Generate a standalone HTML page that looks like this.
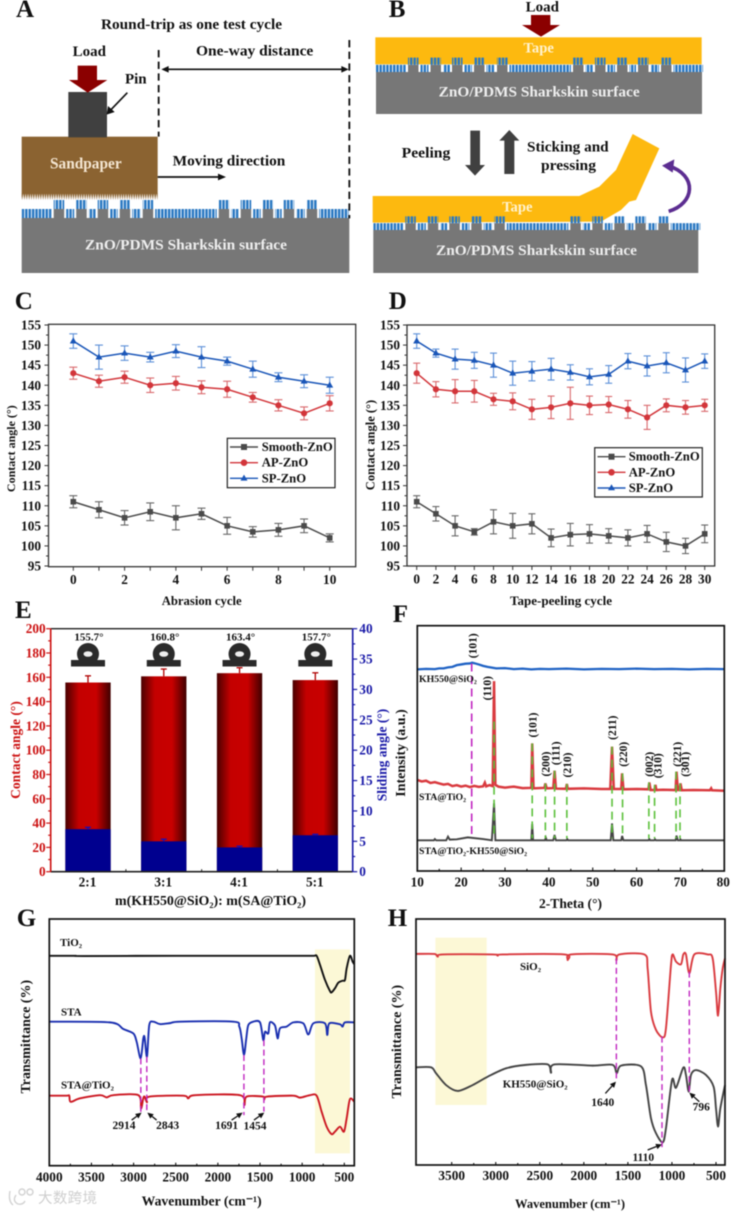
<!DOCTYPE html>
<html lang="en">
<head>
<meta charset="utf-8">
<title>ZnO/PDMS sharkskin surface figure</title>
<style>
html,body{margin:0;padding:0;background:#fff;}
svg{display:block;filter:blur(0.4px);}
text{font-family:"Liberation Serif","Noto Serif CJK SC",serif;font-weight:bold;fill:#111;}
.wm{font-family:"Liberation Sans","Noto Sans CJK SC",sans-serif;font-weight:normal;fill:#cfcfcf;}
</style>
</head>
<body>
<svg id="figure" xmlns="http://www.w3.org/2000/svg" width="733" height="1213" viewBox="0 0 733 1213">
<defs>
  <pattern id="fiber" width="3.4" height="20" patternUnits="userSpaceOnUse"><rect width="2.5" height="20" fill="#2a78c2"/></pattern>
  <pattern id="teeth" width="7" height="20" patternUnits="userSpaceOnUse"><polygon points="0,0 7,0 3.5,20" fill="#8b6331"/></pattern>
  <linearGradient id="barRed" x1="0" x2="1" y1="0" y2="0">
    <stop offset="0" stop-color="#4a0000"/><stop offset="0.3" stop-color="#c40000"/><stop offset="0.68" stop-color="#c80000"/><stop offset="1" stop-color="#3f0000"/>
  </linearGradient>
  <g id="surface-strip">
    <rect x="0" y="-9" width="327" height="9" fill="url(#fiber)"/>
    <rect x="30" y="-9" width="14.5" height="9" fill="#fff"/><rect x="52.5" y="-9" width="14.5" height="9" fill="#fff"/><rect x="74" y="-9" width="14.5" height="9" fill="#fff"/><rect x="96" y="-9" width="14.5" height="9" fill="#fff"/><rect x="119" y="-9" width="14.5" height="9" fill="#fff"/><rect x="195" y="-9" width="14.5" height="9" fill="#fff"/><rect x="217" y="-9" width="14.5" height="9" fill="#fff"/><rect x="239" y="-9" width="14.5" height="9" fill="#fff"/><rect x="260" y="-9" width="14.5" height="9" fill="#fff"/><rect x="283" y="-9" width="14.5" height="9" fill="#fff"/>
    <rect x="32" y="-9" width="10.5" height="9" fill="#777"/><rect x="54.5" y="-9" width="10.5" height="9" fill="#777"/><rect x="76" y="-9" width="10.5" height="9" fill="#777"/><rect x="98" y="-9" width="10.5" height="9" fill="#777"/><rect x="121" y="-9" width="10.5" height="9" fill="#777"/><rect x="197" y="-9" width="10.5" height="9" fill="#777"/><rect x="219" y="-9" width="10.5" height="9" fill="#777"/><rect x="241" y="-9" width="10.5" height="9" fill="#777"/><rect x="262" y="-9" width="10.5" height="9" fill="#777"/><rect x="285" y="-9" width="10.5" height="9" fill="#777"/>
    <rect x="32" y="-18" width="10.5" height="9" fill="url(#fiber)"/><rect x="54.5" y="-18" width="10.5" height="9" fill="url(#fiber)"/><rect x="76" y="-18" width="10.5" height="9" fill="url(#fiber)"/><rect x="98" y="-18" width="10.5" height="9" fill="url(#fiber)"/><rect x="121" y="-18" width="10.5" height="9" fill="url(#fiber)"/><rect x="197" y="-18" width="10.5" height="9" fill="url(#fiber)"/><rect x="219" y="-18" width="10.5" height="9" fill="url(#fiber)"/><rect x="241" y="-18" width="10.5" height="9" fill="url(#fiber)"/><rect x="262" y="-18" width="10.5" height="9" fill="url(#fiber)"/><rect x="285" y="-18" width="10.5" height="9" fill="url(#fiber)"/>
  </g>
</defs>
<rect width="733" height="1213" fill="#fff"/>

<!-- Panel A -->
<g>
  <rect x="21.7" y="218" width="327.6" height="55" fill="#777"/>
  <use href="#surface-strip" transform="translate(21.7,218)"/>
  <g transform="scale(0.33333)">
    <rect x="65" y="410" width="408" height="172" fill="#8b6331"/>
    <rect x="65" y="580" width="408" height="20" fill="url(#teeth)"/>
    <rect x="205" y="276" width="116" height="136" fill="#404040"/>
    <polygon points="233,197 291,197 291,240 322,240 263,278 207,240 233,240" fill="#8b0000"/>
    <line x1="382" y1="278" x2="330" y2="332" stroke="#111" stroke-width="5"/>
    <polygon points="320,344 324,318 344,336" fill="#111"/>
    <line x1="476" y1="150" x2="476" y2="410" stroke="#111" stroke-width="5.5" stroke-dasharray="22 13"/>
    <line x1="1048" y1="120" x2="1048" y2="655" stroke="#111" stroke-width="5.5" stroke-dasharray="22 13"/>
    <line x1="495" y1="208" x2="1030" y2="208" stroke="#111" stroke-width="5"/>
    <polygon points="484,208 506,198 506,218" fill="#111"/>
    <polygon points="1046,208 1024,198 1024,218" fill="#111"/>
    <line x1="473" y1="531" x2="660" y2="531" stroke="#111" stroke-width="5"/>
    <polygon points="678,531 654,521 654,541" fill="#111"/>
    <text x="303" y="87" font-size="45" textLength="543" lengthAdjust="spacingAndGlyphs">Round-trip as one test cycle</text>
    <text x="268" y="168" font-size="45" text-anchor="middle">Load</text>
    <text x="375" y="250" font-size="45">Pin</text>
    <text x="588" y="167" font-size="45" textLength="352" lengthAdjust="spacingAndGlyphs">One-way distance</text>
    <text x="518" y="497" font-size="45" textLength="338" lengthAdjust="spacingAndGlyphs">Moving direction</text>
    <text x="150" y="505" font-size="46" textLength="215" lengthAdjust="spacingAndGlyphs" style="fill:#f4e6d2">Sandpaper</text>
    <text x="255" y="748" font-size="45" textLength="606" lengthAdjust="spacingAndGlyphs" style="fill:#eeeeee">ZnO/PDMS Sharkskin surface</text>
  </g>
</g>

<!-- Panel B -->
<g>
  <g transform="translate(366,0) scale(0.33333)">
    <rect x="28" y="112" width="979" height="81" fill="#fdb90f"/>
    <polygon points="20,588 640,588 700,560 750,510 800,402 880,445 810,600 790,605 765,630 705,665 20,668" fill="#fdb90f"/>
    <polygon points="495,45 553,45 553,75 582,75 525,110 468,75 495,75" fill="#8b0000"/>
    <polygon points="313,392 342,392 342,495 357,495 327,527 297,495 313,495" fill="#404040"/>
    <polygon points="430,390 460,422 445,422 445,522 415,522 415,422 400,422" fill="#404040"/>
    <path d="M908,634 C985,612 998,525 905,497" fill="none" stroke="#5c2d91" stroke-width="11"/>
    <polygon points="888,497 925,478 920,518" fill="#5c2d91"/>
  </g>
  <rect x="376" y="72" width="326" height="42" fill="#777"/>
  <use href="#surface-strip" transform="translate(376,72) scale(1,0.8)"/>
  <rect x="373.3" y="230" width="325" height="43" fill="#777"/>
  <use href="#surface-strip" transform="translate(373.3,230) scale(1,0.76)"/>
  <g transform="translate(366,0) scale(0.33333)">
    <text x="529" y="35" font-size="45" text-anchor="middle">Load</text>
    <text x="518" y="158" font-size="44" text-anchor="middle" style="fill:#fff3d0">Tape</text>
    <text x="454" y="635" font-size="44" text-anchor="middle" style="fill:#fff3d0">Tape</text>
    <text x="107" y="473" font-size="45" textLength="146" lengthAdjust="spacingAndGlyphs">Peeling</text>
    <text x="483" y="455" font-size="45" textLength="245" lengthAdjust="spacingAndGlyphs">Sticking and</text>
    <text x="525" y="510" font-size="45" textLength="165" lengthAdjust="spacingAndGlyphs">pressing</text>
    <text x="218" y="290" font-size="45" textLength="603" lengthAdjust="spacingAndGlyphs" style="fill:#eeeeee">ZnO/PDMS Sharkskin surface</text>
    <text x="210" y="765" font-size="45" textLength="603" lengthAdjust="spacingAndGlyphs" style="fill:#eeeeee">ZnO/PDMS Sharkskin surface</text>
  </g>
</g>

<!-- Panel letters -->
<g font-size="25">
  <text x="16" y="17">A</text>
  <text x="388.7" y="17">B</text>
  <text x="14.7" y="309">C</text>
  <text x="388.7" y="309">D</text>
  <text x="15" y="618">E</text>
  <text x="392.7" y="622">F</text>
  <text x="16.7" y="926">G</text>
  <text x="387.7" y="926">H</text>
</g>

<g id="panel-c"></g>
<g id="panel-d"></g>
<g id="panel-e"></g>
<g id="panel-f"></g>
<g id="panel-g"></g>
<g id="panel-h"></g>

<!-- Titles and legends -->
<text x="161.7" y="605" font-size="12.7" textLength="80" lengthAdjust="spacingAndGlyphs">Abrasion cycle</text>
<text transform="translate(15,448.7) rotate(-90)" font-size="12" text-anchor="middle">Contact angle (°)</text>
<text x="510" y="605" font-size="12.7" textLength="102" lengthAdjust="spacingAndGlyphs">Tape-peeling cycle</text>
<text transform="translate(374.3,445) rotate(-90)" font-size="12.5" text-anchor="middle">Contact angle (°)</text>

<g>
  <rect x="227.3" y="438.3" width="107.7" height="49.4" fill="#fff" stroke="#222" stroke-width="1.2"/>
  <line x1="230" x2="258" y1="447" y2="447" stroke="#4a4a4a" stroke-width="1.4"/><rect x="241" y="444" width="6" height="6" fill="#4a4a4a"/>
  <line x1="230" x2="258" y1="462.7" y2="462.7" stroke="#d2353a" stroke-width="1.4"/><circle cx="244" cy="462.7" r="3.3" fill="#d2353a"/>
  <line x1="230" x2="258" y1="478.3" y2="478.3" stroke="#1a56b8" stroke-width="1.4"/><polygon points="244,474.6 247.5,480.6 240.5,480.6" fill="#1a56b8"/>
  <text x="261.7" y="451" font-size="12.7" textLength="71" lengthAdjust="spacingAndGlyphs">Smooth-ZnO</text>
  <text x="261.7" y="466.7" font-size="12.7">AP-ZnO</text>
  <text x="261.7" y="482.3" font-size="12.7">SP-ZnO</text>
</g>
<g>
  <rect x="594.7" y="447.7" width="107.6" height="49.3" fill="#fff" stroke="#222" stroke-width="1.2"/>
  <line x1="597.5" x2="625.5" y1="456.7" y2="456.7" stroke="#4a4a4a" stroke-width="1.4"/><rect x="608.5" y="453.7" width="6" height="6" fill="#4a4a4a"/>
  <line x1="597.5" x2="625.5" y1="472.3" y2="472.3" stroke="#d2353a" stroke-width="1.4"/><circle cx="611.5" cy="472.3" r="3.3" fill="#d2353a"/>
  <line x1="597.5" x2="625.5" y1="488" y2="488" stroke="#1a56b8" stroke-width="1.4"/><polygon points="611.5,484.3 615,490.3 608,490.3" fill="#1a56b8"/>
  <text x="628.7" y="460.7" font-size="12.7" textLength="71" lengthAdjust="spacingAndGlyphs">Smooth-ZnO</text>
  <text x="628.7" y="476.3" font-size="12.7">AP-ZnO</text>
  <text x="628.7" y="492" font-size="12.7">SP-ZnO</text>
</g>

<text transform="translate(20,750) rotate(-90)" font-size="13.5" text-anchor="middle" style="fill:#cc1111">Contact angle (°)</text>
<text transform="translate(386.7,755) rotate(-90)" font-size="13.5" text-anchor="middle" style="fill:#1a1aa8">Sliding angle (°)</text>
<text x="115" y="905" font-size="14" textLength="191" lengthAdjust="spacingAndGlyphs">m(KH550@SiO₂): m(SA@TiO₂)</text>

<text x="539" y="908" font-size="13.5" textLength="63" lengthAdjust="spacingAndGlyphs">2-Theta (°)</text>
<text transform="translate(405,753) rotate(-90)" font-size="14" text-anchor="middle">Intensity (a.u.)</text>
<text x="419" y="682" font-size="9.8">KH550@SiO₂</text>
<text x="419" y="800" font-size="9.8">STA@TiO₂</text>
<text x="419" y="854" font-size="9.8">STA@TiO₂-KH550@SiO₂</text>

<text x="141.7" y="1205.5" font-size="13.5" textLength="120" lengthAdjust="spacingAndGlyphs">Wavenumber (cm⁻¹)</text>
<text transform="translate(30,1036.7) rotate(-90)" font-size="14" text-anchor="middle">Transmittance (%)</text>
<text x="60" y="946" font-size="11">TiO₂</text>
<text x="61" y="1015.7" font-size="11">STA</text>
<text x="61" y="1088.3" font-size="11">STA@TiO₂</text>

<text x="515" y="1208" font-size="12.5" textLength="110" lengthAdjust="spacingAndGlyphs">Wavenumber (cm⁻¹)</text>
<text transform="translate(401,1041.7) rotate(-90)" font-size="14" text-anchor="middle">Transmittance (%)</text>
<text x="520" y="970" font-size="11">SiO₂</text>
<text x="502.7" y="1087.7" font-size="11">KH550@SiO₂</text>

<!-- Watermark -->
<g>
  <path d="M10,1191 q-2,10 3,14 M16,1195 q-4,6 2,9 q5,1 7,-3 M19,1192 a3,3 0 1 0 6,0 a3,3 0 1 0 -6,0 M27,1192 a3,3 0 1 0 6,0 a3,3 0 1 0 -6,0" fill="none" stroke="#d2d2d2" stroke-width="1.4"/>
  <text class="wm" x="38" y="1203" font-size="14.5" textLength="59">大数跨境</text>
</g>

<script>
/* ---------- Panel C data ---------- */
const abrasionCycles = [0,1,2,3,4,5,6,7,8,9,10];
const abrasionSmooth = [111,109,107,108.5,107,108,105,103.5,104,105,102];
const abrasionSmoothErr = [1.5,2,1.8,2.2,3,1.4,2.1,1.3,1.6,1.7,1];
const abrasionAp = [143,141,142,140,140.5,139.5,139,137,135,133,135.5];
const abrasionApErr = [1.5,1.5,1.5,1.8,1.7,1.6,2,1.2,1.4,1.6,1.9];
const abrasionSp = [151,147,148,147,148.5,147,146,144,142,141,140];
const abrasionSpErr = [1.8,3,1.8,1.2,1.6,2.6,1,2,1.1,1.6,2];
/* ---------- Panel D data ---------- */
const peelCycles = [0,2,4,6,8,10,12,14,16,18,20,22,24,26,28,30];
const peelSmooth = [111,108,105,103.5,106,105,105.5,102,102.8,103,102.5,102,103,101,100,103];
const peelSmoothErr = [1.5,1.8,2.5,0.8,3,3.1,2.5,2.2,2.8,2.3,1.8,2,2.1,2.4,1.9,2.2];
const peelAp = [143,139,138.5,138.5,136.5,136,134,134.5,135.5,135,135.2,134,132,135,134.5,135];
const peelApErr = [2.5,1.9,2.9,2.7,1.5,2.1,2.5,2.8,4,2.3,2,2.2,3,1.6,1.7,1.5];
const peelSp = [151,148,146.5,146.2,145,143,143.5,144,143.2,142.1,142.7,146,144.8,145.6,143.8,146];
const peelSpErr = [1.8,1,2.5,2,3,3,2.4,2.7,1.9,2,2.2,1.9,2.5,2.5,3,1.8];
const contactTicks = [95,100,105,110,115,120,125,130,135,140,145,150,155];
/* ---------- Panel E data ---------- */
const massRatios = ['2:1','3:1','4:1','5:1'];
const contactAngle = [155.7,160.8,163.4,157.7];
const contactAngleErr = [5.5,6,4.5,6];
const slidingAngle = [7,5,4,6];
const slidingAngleErr = [0.3,0.35,0.2,0.15];
const contactAxisTicks = [0,20,40,60,80,100,120,140,160,180,200];
const slidingAxisTicks = [0,5,10,15,20,25,30,35,40];
/* ---------- Panel F data ---------- */
const xrdTicks = [10,20,30,40,50,60,70,80];
const xrdBlueTheta = [10,12,14,15,16,17,18,19,20,21,22,22.5,23,24,25,26,27,28,30,32,34,36,38,40,44,48,52,56,60,64,68,72,76,80];
const xrdBlueI = [82.2,82.4,82.3,82.6,82.6,83,83.2,83.9,84.2,84.5,84.6,84.9,84.7,84.2,83.6,83.2,82.9,82.6,82.7,82.3,82.5,82.2,82.4,82.3,82.5,82.2,82.4,82.3,82.5,82.3,82.4,82.2,82.4,82.3];
const xrdRedTheta = [10,11,12,13,14,15,16,17,18,19,20,21,22,23,24,25,25.4,25.7,26.5,27.2,27.5,27.8,28.5,30,32,34,36,36.2,36.5,39,39.2,39.5,41,41.3,41.6,43.9,44.1,44.3,48,52,54,54.4,54.8,56.5,56.7,57,60,62.7,62.9,63.2,64.1,64.3,64.5,66,68.9,69.1,69.4,69.8,70,70.3,73,76.7,77,77.2,80];
const xrdRedI = [37.1,36.5,36.8,35.9,36.2,35.7,35.2,35.5,34.6,35,34.4,34.8,34.2,34.7,34.3,34.5,36,34.5,35,34.6,77.4,35.1,34.4,34,34.4,33.8,33.9,52,33.7,33.9,35.7,33.7,33.8,40.9,33.6,33.5,35.5,33.5,33.7,33.4,33.4,50.7,33.4,33.4,39.8,33.3,33.4,33.3,36.1,33,33,35.1,33,33.1,33,40.5,33,33,35.7,32.9,33,32.9,33.7,32.9,32.7];
const xrdBlackTheta = [10,13.8,14,14.3,16.6,17,17.4,19,21.5,25,27,27.5,27.8,36,36.2,36.4,39.1,39.3,39.5,41,41.3,41.6,44,44.2,44.4,54.1,54.4,54.7,56.5,56.7,57,62.7,62.9,63.1,64,64.2,64.4,68.9,69.1,69.4,69.9,70,70.2,80];
const xrdBlackI = [12.5,12.5,13,12.5,12.5,14,12.8,12.9,13.7,13,12.5,27.6,12.5,12.5,19.2,12.5,12.5,13.6,12.5,12.5,14.7,12.5,12.5,13,12.5,12.5,19.4,12.5,12.5,14.3,12.5,12.5,13,12.5,12.5,12.9,12.5,12.5,14.4,12.5,12.5,12.9,12.5,12.5];
const xrdGreenTheta = [27.5,36.2,39.2,41.3,44.1,54.4,56.8,62.8,64.1,69,69.9];
const xrdGreenTop = [60.9,52,35.7,40.9,35.5,50.7,39.8,36.1,35.1,40.5,35.7];
const xrdDashBottom = [13.3];
const xrdPinkTheta = [22.4];
const xrdPinkTop = [84.6];
const xrdPeakLabels = ['(101)','(110)','(101)','(200)','(111)','(210)','(211)','(220)','(002)','(310)','(221)','(301)'];
const xrdPeakLabelTheta = [23.5,26.8,37.2,40.1,42.4,45,55.3,57.8,63.7,65.7,70.1,72];
const xrdPeakLabelI = [91.8,74.5,59.5,43.6,48,43.2,58.4,47.6,43.5,42.9,47.6,43.5];
/* ---------- Panel G data ---------- */
const gTickValues = [4000,3500,3000,2500,2000,1500,1000,500];
const tio2Wn = [4000,3700,3600,2500,1500,1000,860,828,788,729,670,650,611,571,520,492,472,433,401,381];
const tio2T = [85.1,85.1,85,85.1,85.1,85.1,85.1,85.1,81.4,75.3,70.8,70.3,71.9,74.2,75,75.3,80,85.1,82.7,81.6];
const staWn = [4000,3280,3122,3003,2964,2916,2885,2869,2841,2814,2766,2687,2568,2450,1817,1746,1718,1690,1663,1639,1580,1500,1461,1441,1402,1382,1322,1291,1263,1184,1105,986,927,868,729,702,678,551,520,492,381];
const staT = [58.4,58.1,55.4,53.6,50.3,43.5,51.6,51.9,44.2,57,58.4,57.4,57.8,58.4,58.4,56.4,51.6,44.9,51.6,57,58.4,58.1,50.9,54.3,53.6,58.1,56.8,51.6,55.7,56.4,58.1,57.7,53.2,57.7,57.7,53,57.7,57.3,56.4,58.1,58.1];
const staTio2Wn = [4000,3794,3763,3747,3636,3399,3320,3241,2944,2912,2885,2869,2841,2814,2410,2351,2272,1738,1686,1659,1461,1449,1421,1105,1026,907,828,769,709,650,611,551,504,472,433,381];
const staTio2T = [28.4,28.4,28.4,25.9,27.3,28.6,27.7,28.6,28.6,23.2,27.3,28,25.7,28,28.4,27.3,28.6,28.6,24.6,28,28,26.9,28,28.4,27.6,28.6,28.4,21.9,15.8,12.8,13.8,15.8,13.8,19.2,27,25.9];
const gBandWn = [848,433];
const gBandT = [87.7,5];
const gPeakLabels = ['2914','2843','1691','1454'];
const gPeakWn = [2914,2843,1691,1454];
const gDashTop = [43.5,44.2,44.9,50.9];
const gDashBottom = [21.2,21.9,20.5,21.9];
const gLabelWn = [3114,2596,1896,1560];
const gLabelT = [14.9,14.9,14.9,14.6];
const gArrowFromWn = [3023,2727,1837,1572];
const gArrowFromT = [18.5,18.5,18.5,18.5];
const gArrowToWn = [2905,2837,1706,1449];
const gArrowToT = [21.5,21.5,21.5,21.5];
/* ---------- Panel H data ---------- */
const hTickValues = [3500,3000,2500,2000,1500,1000,500];
const sio2Wn = [3905,3697,3659,3602,3035,2978,2921,2221,2184,2146,1673,1631,1597,1313,1276,1238,1181,1105,1068,1011,992,954,897,871,841,803,746,595,538,500,477,451,424,398];
const sio2T = [85.8,85.8,84.7,85.6,85.6,85.1,85.6,85.6,83.3,85.6,85.6,83.3,85.6,85.6,79.9,62.3,54.9,51.9,55.6,81.3,85.6,82.7,81.6,85.6,85.6,77.9,85.6,85.6,84,70.5,60.7,71.8,79.9,84];
const kh550Wn = [3905,3735,3678,3564,3432,3262,3091,2883,2656,2410,2373,2335,1900,1673,1627,1578,1351,1295,1238,1181,1105,1068,999,954,871,841,810,784,727,614,527,500,477,451,398];
const kh550T = [39.7,39.7,37.3,32.5,30.1,32.5,35.9,39.3,40.7,40.9,37.5,40.9,40.4,40.7,37.3,40.4,40.1,32.5,19,12.9,9.2,14.9,34.6,31.4,39.6,36.6,29.8,36.6,38.6,36.6,31.8,23,15.6,23,32.5];
const hBandWn = [3685,3103];
const hBandT = [92.4,24.4];
const hPeakLabels = ['1640','1110','796'];
const hPeakWn = [1631,1113,803];
const hDashTop = [84,52.2,78.6];
const hDashBottom = [34.6,6.8,29.1];
const hLabelWn = [1786,1325,667];
const hLabelT = [24,1.6,22.1];
const hArrowFromWn = [1756,1276,689];
const hArrowFromT = [29.1,6.1,25.7];
const hArrowToWn = [1635,1113,803];
const hArrowToT = [33.9,8.4,29.4];

/* ---------- Helpers ---------- */
const NS = 'http://www.w3.org/2000/svg';
function el(parent, tag, attrs, name) {
  const e = document.createElementNS(NS, tag);
  for (const k in attrs) e.setAttribute(k, attrs[k]);
  
  
  parent.appendChild(e);
  return e;
}
function label(parent, str, x, y, size, anchor, name, fill, rotate) {
  const a = {x: x, y: y, 'font-size': size, 'text-anchor': anchor};
  if (rotate) a.transform = 'rotate(-90 ' + x + ' ' + y + ')';
  const t = el(parent, 'text', a, name);
  if (fill) t.style.fill = fill;
  t.textContent = str;
  return t;
}
function scale(d0, d1, r0, r1) { return v => r0 + (v - d0) * (r1 - r0) / (d1 - d0); }
function linePath(xs, ys, sx, sy, smooth) {
  const p = xs.map((v, i) => [sx(v), sy(ys[i])]);
  let d = 'M' + p[0][0].toFixed(2) + ',' + p[0][1].toFixed(2);
  for (let i = 1; i < p.length; i++) {
    if (smooth) {
      const a = p[Math.max(i - 2, 0)], b = p[i - 1], c = p[i], e = p[Math.min(i + 1, p.length - 1)];
      const t = 0.15;
      d += ' C' + (b[0] + (c[0] - a[0]) * t).toFixed(2) + ',' + (b[1] + (c[1] - a[1]) * t).toFixed(2) + ' ' +
           (c[0] - (e[0] - b[0]) * t).toFixed(2) + ',' + (c[1] - (e[1] - b[1]) * t).toFixed(2) + ' ' +
           c[0].toFixed(2) + ',' + c[1].toFixed(2);
    } else {
      d += ' L' + p[i][0].toFixed(2) + ',' + p[i][1].toFixed(2);
    }
  }
  return d;
}
function frame(g, x0, y0, x1, y1, w, color, name) {
  el(g, 'rect', {x: x0, y: y0, width: x1 - x0, height: y1 - y0, fill: 'none', stroke: color, 'stroke-width': w}, name);
}
function seg(g, x1, y1, x2, y2, color, w, name, dash) {
  const a = {x1: x1, y1: y1, x2: x2, y2: y2, stroke: color, 'stroke-width': w};
  if (dash) a['stroke-dasharray'] = dash;
  return el(g, 'line', a, name);
}
function arrow(g, x1, y1, x2, y2, name) {
  const ang = Math.atan2(y2 - y1, x2 - x1), L = 6, W = 2.8;
  const bx = x2 - Math.cos(ang) * L, by = y2 - Math.sin(ang) * L;
  seg(g, x1, y1, bx, by, '#111', 1.3, name + '-shaft');
  const pts = x2 + ',' + y2 + ' ' + (bx - Math.sin(ang) * W) + ',' + (by + Math.cos(ang) * W) + ' ' + (bx + Math.sin(ang) * W) + ',' + (by - Math.cos(ang) * W);
  el(g, 'polygon', {points: pts, fill: '#111'}, name + '-head');
}

/* ---------- Line charts C and D ---------- */
function lineChart(id, box, xs, xDomain, xLabelEvery, series, yLabelX, xBase, capW) {
  const g = document.getElementById(id);
  const sx = scale(xDomain[0], xDomain[1], box.xa, box.xb);
  const sy = scale(95, 155, box.y95, box.y155);
  contactTicks.forEach((v) => {
    seg(g, box.x0, sy(v), box.x0 - 4, sy(v), '#333', 1, id + '-y-tick');
    if (v < 155) seg(g, box.x0, sy(v + 2.5), box.x0 - 2.5, sy(v + 2.5), '#333', 1, id + '-y-minor-tick');
    label(g, String(v), yLabelX, sy(v) + 4.5, 13.3, 'end', id + '-y-tick-label');
  });
  xs.forEach((v, i) => {
    seg(g, sx(v), box.y0, sx(v), box.y0 + 4, '#333', 1, id + '-x-tick');
    if (i % xLabelEvery === 0) label(g, String(v), sx(v), xBase, 13.3, 'middle', id + '-x-tick-label');
  });
  series.forEach((s) => {
    xs.forEach((v, i) => {
      const hi = sy(s.values[i] + s.err[i]), lo = sy(s.values[i] - s.err[i]), x = sx(v);
      seg(g, x, hi, x, lo, s.light, 1.1, id + '-' + s.key + '-error-bar');
      seg(g, x - capW, hi, x + capW, hi, s.light, 1.1, id + '-' + s.key + '-error-cap');
      seg(g, x - capW, lo, x + capW, lo, s.light, 1.1, id + '-' + s.key + '-error-cap');
    });
    el(g, 'path', {d: linePath(xs, s.values, sx, sy), fill: 'none', stroke: s.color, 'stroke-width': 1.5}, id + '-' + s.key + '-line');
    xs.forEach((v, i) => {
      const x = sx(v), y = sy(s.values[i]);
      if (s.key === 'smooth') el(g, 'rect', {x: x - 2.8, y: y - 2.8, width: 5.6, height: 5.6, fill: s.color}, id + '-smooth-point');
      else if (s.key === 'ap') el(g, 'circle', {cx: x, cy: y, r: 3.1, fill: s.color}, id + '-ap-point');
      else el(g, 'polygon', {points: x + ',' + (y - 3.8) + ' ' + (x + 3.5) + ',' + (y + 2.4) + ' ' + (x - 3.5) + ',' + (y + 2.4), fill: s.color}, id + '-sp-point');
    });
  });
  frame(g, box.x0, box.y1, box.x1, box.y0, 1.3, '#333', id + '-plot-frame');
}
const GRAY = {key: 'smooth', color: '#4a4a4a', light: '#666'};
const RED = {key: 'ap', color: '#d2353a', light: '#d9686c'};
const BLUE = {key: 'sp', color: '#1a56b8', light: '#5b8fd8'};
lineChart('panel-c', {x0: 48.5, x1: 355.7, y0: 566.7, y1: 324.3, xa: 73.3, xb: 329.7, y95: 566, y155: 325}, abrasionCycles, [0, 10], 2, [
  Object.assign({values: abrasionSmooth, err: abrasionSmoothErr}, GRAY),
  Object.assign({values: abrasionAp, err: abrasionApErr}, RED),
  Object.assign({values: abrasionSp, err: abrasionSpErr}, BLUE)
], 41, 584, 4);
lineChart('panel-d', {x0: 407, x1: 714.7, y0: 566, y1: 325, xa: 416.7, xb: 704.7, y95: 566, y155: 325}, peelCycles, [0, 30], 1, [
  Object.assign({values: peelSmooth, err: peelSmoothErr}, GRAY),
  Object.assign({values: peelAp, err: peelApErr}, RED),
  Object.assign({values: peelSp, err: peelSpErr}, BLUE)
], 400, 583.3, 3.5);

/* ---------- Panel E ---------- */
(function () {
  const g = document.getElementById('panel-e');
  const x0 = 50.7, x1 = 352.7, top = 628.7, bottom = 871.7;
  const sc = scale(0, 200, bottom, top);
  const ss = scale(0, 40, bottom, top);
  const sb = i => 88 + i * 75.77;
  const barW = 45.3;
  const RED_C = '#cc1111', BLUE_C = '#1a1aa8';
  contactAngle.forEach((v, i) => {
    const x = sb(i);
    el(g, 'rect', {x: x - barW / 2, y: sc(v), width: barW, height: bottom - sc(v), fill: 'url(#barRed)'}, 'contact-angle-bar');
    seg(g, x, sc(v), x, sc(v + contactAngleErr[i]), '#b00000', 1.3, 'contact-angle-error-bar');
    seg(g, x - 3, sc(v + contactAngleErr[i]), x + 3, sc(v + contactAngleErr[i]), '#b00000', 1.3, 'contact-angle-error-cap');
    label(g, v.toFixed(1) + '°', x + 1, 640.7, 11, 'middle', 'contact-angle-value');
    el(g, 'rect', {x: x - 17, y: 660, width: 34, height: 6.5, fill: '#2a2a2a'}, 'droplet-substrate');
    el(g, 'circle', {cx: x, cy: 654, r: 11, fill: '#2a2a2a'}, 'droplet');
    el(g, 'ellipse', {cx: x, cy: 654, rx: 4.5, ry: 2.8, fill: '#eee'}, 'droplet-highlight');
    const s = slidingAngle[i];
    el(g, 'rect', {x: x - barW / 2, y: ss(s), width: barW, height: bottom - ss(s), fill: '#00008f'}, 'sliding-angle-bar');
    seg(g, x, ss(s), x, ss(s + slidingAngleErr[i]), '#1010c0', 1.3, 'sliding-angle-error-bar');
    seg(g, x - 3, ss(s + slidingAngleErr[i]), x + 3, ss(s + slidingAngleErr[i]), '#1010c0', 1.3, 'sliding-angle-error-cap');
    label(g, massRatios[i], x - 0.5, 886.7, 13.3, 'middle', 'x-tick-label');
    if (i < 3) seg(g, x + 37.9, bottom, x + 37.9, bottom - 2.5, '#222', 1, 'x-minor-tick');
  });
  seg(g, x0, top, x1, top, '#222', 1.4, 'top-axis');
  seg(g, x0, bottom, x1, bottom, '#222', 1.6, 'bottom-axis');
  seg(g, x0, top, x0, bottom, RED_C, 1.6, 'left-axis');
  seg(g, x1, top, x1, bottom, BLUE_C, 1.6, 'right-axis');
  contactAxisTicks.forEach((v) => {
    seg(g, x0, sc(v), x0 - 4.5, sc(v), RED_C, 1.2, 'left-axis-tick');
    if (v < 200) seg(g, x0, sc(v + 10), x0 - 2.5, sc(v + 10), RED_C, 1.2, 'left-axis-minor-tick');
    label(g, String(v), 45.7, sc(v) + 4.5, 13.3, 'end', 'left-axis-tick-label', RED_C);
  });
  slidingAxisTicks.forEach((v) => {
    seg(g, x1, ss(v), x1 + 4.5, ss(v), BLUE_C, 1.2, 'right-axis-tick');
    if (v < 40) seg(g, x1, ss(v + 2.5), x1 + 2.5, ss(v + 2.5), BLUE_C, 1.2, 'right-axis-minor-tick');
    label(g, String(v), 359.3, ss(v) + 4.5, 13.3, 'start', 'right-axis-tick-label', BLUE_C);
  });
})();

/* ---------- Panel F ---------- */
(function () {
  const g = document.getElementById('panel-f');
  const x0 = 417.3, x1 = 724.3, top = 625.7, bottom = 871;
  const sx = scale(10, 80, x0, x1);
  const sy = scale(0, 100, bottom, 871 - 736 / 3);
  el(g, 'path', {d: linePath(xrdBlackTheta, xrdBlackI, sx, sy), fill: 'none', stroke: '#444', 'stroke-width': 1.9}, 'xrd-composite-line');
  el(g, 'path', {d: linePath(xrdRedTheta, xrdRedI, sx, sy), fill: 'none', stroke: '#d93a3f', 'stroke-width': 2.5}, 'xrd-sta-tio2-line');
  el(g, 'path', {d: linePath(xrdBlueTheta, xrdBlueI, sx, sy), fill: 'none', stroke: '#1f62c4', 'stroke-width': 2.3}, 'xrd-kh550-line');
  xrdPinkTheta.forEach((t, i) => {
    seg(g, sx(t), sy(xrdPinkTop[i]), sx(t), sy(xrdDashBottom[0]), '#c026c0', 1.6, 'xrd-dashed-guide-pink', '8 4.5');
  });
  xrdGreenTheta.forEach((t, i) => {
    seg(g, sx(t), sy(xrdGreenTop[i]), sx(t), sy(xrdDashBottom[0]), '#5bc03a', 1.6, 'xrd-dashed-guide-green', '8 5');
  });
  xrdPeakLabels.forEach((s, i) => {
    label(g, s, sx(xrdPeakLabelTheta[i]), sy(xrdPeakLabelI[i]), 11.5, 'middle', 'xrd-peak-label', null, true);
  });
  xrdTicks.forEach((v) => {
    seg(g, sx(v), bottom, sx(v), bottom - 3.5, '#111', 1.1, 'xrd-x-tick');
    if (v < 80) seg(g, sx(v + 5), bottom, sx(v + 5), bottom - 2.2, '#111', 1.1, 'xrd-x-minor-tick');
    label(g, String(v), sx(v) - (v === 80 ? 1 : 0), 886.7, 13.3, 'middle', 'xrd-x-tick-label');
  });
  frame(g, x0, top, x1, bottom, 1.7, '#111', 'xrd-plot-frame');
})();

/* ---------- Spectrum panels G and H ---------- */
function spectrumChart(id, o) {
  const g = document.getElementById(id);
  const sx = scale(o.wn0, o.wn1, o.xA, o.xB);
  const sy = scale(0, 100, o.bottom, o.bottom - o.yPer100);
  el(g, 'rect', {x: sx(o.bandWn[0]), y: sy(o.bandT[0]), width: sx(o.bandWn[1]) - sx(o.bandWn[0]), height: sy(o.bandT[1]) - sy(o.bandT[0]), fill: '#fcf8d6'}, id + '-highlight-band');
  o.lines.forEach((l) => {
    el(g, 'path', {d: linePath(l.wn, l.t, sx, sy, true), fill: 'none', stroke: l.color, 'stroke-width': 1.9, 'stroke-linejoin': 'round'}, id + '-' + l.key + '-line');
  });
  o.peakWn.forEach((w, i) => {
    seg(g, sx(w), sy(o.dashTop[i]), sx(w), sy(o.dashBottom[i]), '#c026c0', 1.4, id + '-peak-guide', '6 3.5');
    label(g, o.peakLabels[i], sx(o.labelWn[i]), sy(o.labelT[i]), 11.5, 'middle', id + '-peak-label');
    arrow(g, sx(o.arrFromWn[i]), sy(o.arrFromT[i]), sx(o.arrToWn[i]), sy(o.arrToT[i]), id + '-peak-arrow');
  });
  o.ticks.forEach((v) => {
    seg(g, sx(v), o.bottom, sx(v), o.bottom - 3, '#111', 1.1, id + '-x-tick');
    const m = v - 250;
    if (m > Math.min(o.wn0, o.wn1)) seg(g, sx(m), o.bottom, sx(m), o.bottom - 2, '#111', 1.1, id + '-x-minor-tick');
    label(g, String(v), sx(v), o.tickY, 13.3, 'middle', id + '-x-tick-label');
  });
  frame(g, o.x0, o.top, o.x1, o.bottom, 1.7, '#111', id + '-plot-frame');
}
spectrumChart('panel-g', {
  wn0: 4000, wn1: 500, xA: 49.3, xB: 344.3, x0: 49.3, x1: 354.3, top: 919, bottom: 1165.7, yPer100: 246.67, tickY: 1181.7,
  bandWn: gBandWn, bandT: gBandT,
  lines: [
    {key: 'tio2', wn: tio2Wn, t: tio2T, color: '#111'},
    {key: 'sta', wn: staWn, t: staT, color: '#1a2fb0'},
    {key: 'sta-tio2', wn: staTio2Wn, t: staTio2T, color: '#cc1822'}
  ],
  peakWn: gPeakWn, dashTop: gDashTop, dashBottom: gDashBottom, peakLabels: gPeakLabels, labelWn: gLabelWn, labelT: gLabelT,
  arrFromWn: gArrowFromWn, arrFromT: gArrowFromT, arrToWn: gArrowToWn, arrToT: gArrowToT, ticks: gTickValues
});
spectrumChart('panel-h', {
  wn0: 3500, wn1: 500, xA: 451.7, xB: 716, x0: 416, x1: 725, top: 919, bottom: 1165, yPer100: 246, tickY: 1180,
  bandWn: hBandWn, bandT: hBandT,
  lines: [
    {key: 'sio2', wn: sio2Wn, t: sio2T, color: '#d93a3f'},
    {key: 'kh550', wn: kh550Wn, t: kh550T, color: '#444'}
  ],
  peakWn: hPeakWn, dashTop: hDashTop, dashBottom: hDashBottom, peakLabels: hPeakLabels, labelWn: hLabelWn, labelT: hLabelT,
  arrFromWn: hArrowFromWn, arrFromT: hArrowFromT, arrToWn: hArrowToWn, arrToT: hArrowToT, ticks: hTickValues
});
</script>
</svg>
</body>
</html>
